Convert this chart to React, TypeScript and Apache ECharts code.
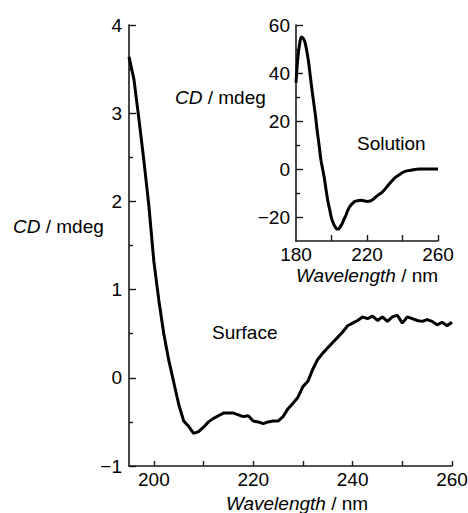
import React, { useEffect, useRef } from 'react';
import * as echarts from 'echarts';

// Surface CD spectrum (main plot)
const surfaceWavelength = [
  195, 196, 197, 198, 199, 200, 201, 202, 203, 204, 205, 206, 207, 208, 209, 210,
  211, 212, 213, 214, 215, 216, 217, 218, 219, 220, 221, 222, 223, 224, 225, 226,
  227, 228, 229, 230, 231, 232, 233, 234, 235, 236, 237, 238, 239, 240, 241, 242,
  243, 244, 245, 246, 247, 248, 249, 250, 251, 252, 253, 254, 255, 256, 257, 258,
  259, 260,
];
const surfaceCD = [
  3.64, 3.38, 2.93, 2.46, 1.95, 1.32, 0.88, 0.5, 0.2, -0.05, -0.3, -0.49, -0.55, -0.63, -0.61, -0.56,
  -0.5, -0.46, -0.43, -0.4, -0.4, -0.4, -0.42, -0.44, -0.43, -0.49, -0.5, -0.52, -0.5, -0.49, -0.49, -0.44,
  -0.35, -0.29, -0.22, -0.1, -0.04, 0.1, 0.21, 0.28, 0.34, 0.4, 0.46, 0.52, 0.59, 0.62, 0.65, 0.69,
  0.67, 0.7, 0.65, 0.69, 0.64, 0.69, 0.71, 0.62, 0.69, 0.67, 0.65, 0.64, 0.66, 0.64, 0.6, 0.63,
  0.59, 0.63,
];

// Solution CD spectrum (inset)
const solutionWavelength = [
  180, 181, 182, 183, 184, 185, 186, 187, 188, 189, 190, 191, 192, 193, 194, 195,
  196, 197, 198, 199, 200, 201, 202, 203, 204, 205, 206, 207, 208, 209, 210, 211,
  212, 213, 214, 215, 216, 218, 220, 222, 224, 226, 228, 230, 232, 234, 236, 238,
  240, 242, 244, 246, 248, 250, 255, 260,
];
const solutionCD = [
  36, 46, 52, 55, 54.5, 53, 49.5, 45, 39, 33, 27.5, 22, 15.5, 10, 4, 0,
  -4, -9, -13.5, -17, -20.5, -22.6, -24, -25, -25, -24, -22.8, -21, -19.5, -17.5, -16, -15,
  -14.2, -13.6, -13.3, -13.2, -13, -13.2, -13.5, -13.3, -12.3, -11, -10, -8.5, -6.7, -5, -3.5, -2.5,
  -1.5, -0.9, -0.6, -0.3, -0.1, 0, 0, 0,
];

// Tick / label values
const mainXLabels = [200, 220, 240, 260];
const mainXTicks = [200, 210, 220, 230, 240, 250, 260];
const mainYLabels = [-1, 0, 1, 2, 3, 4];
const insetXLabels = [180, 220, 260];
const insetXTicks = [200, 220, 240, 260];
const insetYLabels = [-20, 0, 20, 40, 60];

const FONT = '"Liberation Sans", Arial, Helvetica, sans-serif';
const AXIS_COLOR = '#1a1a1a';
const fmt = (v: number) => String(v).replace('-', '\u2212');
const tickLine = { color: AXIS_COLOR, width: 1.4 };

function labelAxis(gridIndex: number, position: string, min: number, max: number, labels: number[], margin: number, extra: any = {}) {
  return {
    type: 'value',
    gridIndex,
    position,
    min,
    max,
    axisLine: { show: true, onZero: false, lineStyle: { color: AXIS_COLOR, width: 1.6 } },
    axisTick: { show: false },
    axisLabel: {
      show: true,
      customValues: labels,
      formatter: fmt,
      color: '#000',
      fontFamily: FONT,
      fontSize: 19,
      margin,
    },
    splitLine: { show: false },
    ...extra,
  };
}

// opposite-side axis shifted onto the near side; its outward ticks point into the plot
function tickAxis(gridIndex: number, position: string, offset: number, min: number, max: number, tick: any, extra: any = {}) {
  return {
    type: 'value',
    gridIndex,
    position,
    offset,
    min,
    max,
    axisLine: { show: false, onZero: false },
    axisTick: { show: true, inside: false, lineStyle: tickLine, ...tick },
    axisLabel: { show: false },
    splitLine: { show: false },
    ...extra,
  };
}

const nameStyle = {
  color: '#000',
  fontFamily: FONT,
  fontSize: 19,
  rich: {
    i: { fontStyle: 'italic', fontFamily: FONT, fontSize: 19, color: '#000' },
  },
};

const richCD = { i: { fontStyle: 'italic', fontSize: 19, fontFamily: FONT, fill: '#000' } };

export default function App() {
  const ref = useRef<HTMLDivElement>(null);
  useEffect(() => {
    if (!ref.current) return;
    const chart = echarts.init(ref.current, undefined, { renderer: 'svg' });
    const option: any = {
      animation: false,
      backgroundColor: '#fff',
      grid: [
        { left: 129, top: 25, width: 323, height: 441, containLabel: false, outerBoundsMode: 'none' },
        { left: 296, top: 25, width: 142, height: 216, containLabel: false, outerBoundsMode: 'none' },
        // same inset plot area, restricted to -20..60 for its y ticks
        { left: 296, top: 25, width: 142, height: 192, containLabel: false, outerBoundsMode: 'none' },
      ],
      xAxis: [
        labelAxis(0, 'bottom', 195, 260, mainXLabels, 4, {
          name: '{i|Wavelength} / nm',
          nameLocation: 'middle',
          nameGap: 27,
          nameTextStyle: { ...nameStyle, padding: [0, 0, 0, 13] },
        }),
        tickAxis(0, 'top', -441, 195, 260, { length: 5, customValues: mainXTicks }),
        labelAxis(1, 'bottom', 180, 260, insetXLabels, 4, {
          name: '{i|Wavelength} / nm',
          nameLocation: 'middle',
          nameGap: 25,
          nameTextStyle: nameStyle,
        }),
        tickAxis(1, 'top', -216, 180, 260, { length: 6, customValues: insetXTicks }),
        { type: 'value', gridIndex: 2, show: false, min: 180, max: 260 },
      ],
      yAxis: [
        labelAxis(0, 'left', -1, 4, mainYLabels, 7),
        tickAxis(0, 'right', -323, -1, 4, { length: 7 }, {
          interval: 1,
          minorTick: { show: true, splitNumber: 2, length: 4, lineStyle: tickLine },
        }),
        labelAxis(1, 'left', -30, 60, insetYLabels, 6),
        tickAxis(2, 'right', -142, -20, 60, { length: 7 }, {
          interval: 20,
          minorTick: { show: true, splitNumber: 2, length: 4, lineStyle: tickLine },
        }),
      ],
      series: [
        {
          type: 'line',
          xAxisIndex: 0,
          yAxisIndex: 0,
          data: surfaceWavelength.map((w, i) => [w, surfaceCD[i]]),
          showSymbol: false,
          symbol: 'none',
          lineStyle: { color: '#000', width: 3 },
          smooth: false,
        },
        {
          type: 'line',
          xAxisIndex: 2,
          yAxisIndex: 2,
          data: solutionWavelength.map((w, i) => [w, solutionCD[i]]),
          showSymbol: false,
          symbol: 'none',
          lineStyle: { color: '#000', width: 3 },
          smooth: 0.3,
        },
      ],
      graphic: [
        {
          type: 'text',
          x: 13,
          y: 226,
          style: { text: '{i|CD} / mdeg', font: `19px ${FONT}`, fill: '#000', verticalAlign: 'middle', rich: richCD },
        },
        {
          type: 'text',
          x: 175,
          y: 97,
          style: { text: '{i|CD} / mdeg', font: `19px ${FONT}`, fill: '#000', verticalAlign: 'middle', rich: richCD },
        },
        {
          type: 'text',
          x: 212,
          y: 332,
          style: { text: 'Surface', font: `19px ${FONT}`, fill: '#000', verticalAlign: 'middle' },
        },
        {
          type: 'text',
          x: 357,
          y: 143,
          style: { text: 'Solution', font: `19px ${FONT}`, fill: '#000', verticalAlign: 'middle' },
        },
      ],
    };
    chart.setOption(option);
    return () => chart.dispose();
  }, []);
  return (
    <div
      ref={ref}
      style={{ position: 'fixed', left: 0, top: 0, width: 468, height: 513, background: '#fff' }}
    />
  );
}
